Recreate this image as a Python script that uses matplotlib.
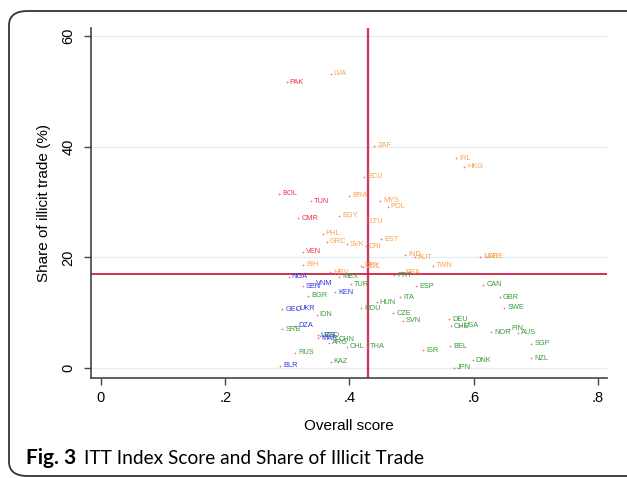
import matplotlib
matplotlib.use("Agg")
import matplotlib.pyplot as plt
from matplotlib import font_manager
from matplotlib.patches import FancyBboxPatch

# country codes, ITT overall score, share of illicit trade (%), colour group
codes = ["PAK", "BOL", "TUN", "CMR", "VEN",
         "LVA", "ZAF", "IRL", "HKG", "ECU", "BRA", "MYS", "POL", "EGY", "LTU",
         "PHL", "GRC", "SVK", "CRI", "EST", "IND", "AUT", "NLD", "ARE", "TWN",
         "BIH", "URY", "COL", "HRV", "FRA",
         "NGA", "SEN", "VNM", "KEN", "GEO", "UKR", "DZA", "UZB", "MAR", "BLR",
         "PRT", "MEX", "TUR", "ESP", "CAN", "BGR", "ITA", "GBR", "HUN", "ROU",
         "SWE", "IDN", "CZE", "SVN", "DEU", "CHE", "USA", "FIN", "NOR", "AUS",
         "SRB", "BGD", "ARG", "CHN", "CHL", "THA", "ISR", "BEL", "SGP", "RUS",
         "NZL", "DNK", "KAZ", "JPN"]
scores = [0.299, 0.287, 0.338, 0.318, 0.325,
          0.370, 0.440, 0.572, 0.585, 0.4235, 0.400, 0.450, 0.4615, 0.384, 0.428,
          0.357, 0.3636, 0.3958, 0.426, 0.451, 0.490, 0.5056, 0.611, 0.620, 0.534,
          0.326, 0.419, 0.422, 0.3694, 0.4847,
          0.302, 0.325, 0.342, 0.377, 0.292, 0.3153, 0.3127, 0.349, 0.350, 0.288,
          0.472, 0.3836, 0.402, 0.507, 0.6155, 0.3333, 0.482, 0.642, 0.444, 0.419,
          0.6496, 0.3475, 0.4705, 0.486, 0.5607, 0.563, 0.578, 0.6567, 0.628, 0.6715,
          0.292, 0.353, 0.3677, 0.377, 0.396, 0.428, 0.5188, 0.5626, 0.6928, 0.3127,
          0.6928, 0.5987, 0.370, 0.5684]
shares = [51.6, 31.5, 30.1, 27.1, 21.0,
          53.2, 40.2, 37.9, 36.4, 34.6, 31.1, 30.2, 29.1, 27.5, 26.5,
          24.3, 22.8, 22.35, 22.0, 23.3, 20.5, 20.0, 20.1, 20.1, 18.5,
          18.7, 18.5, 18.3, 17.3, 17.3,
          16.5, 14.8, 15.2, 13.7, 10.6, 10.7, 7.6, 5.9, 5.4, 0.42,
          16.75, 16.45, 15.1, 14.8, 15.0, 13.1, 12.8, 12.8, 11.9, 10.8,
          10.9, 9.6, 9.9, 8.55, 8.8, 7.5, 7.65, 7.05, 6.45, 6.4,
          7.0, 5.8, 4.6, 5.06, 3.8, 3.85, 3.25, 3.9, 4.4, 2.77,
          1.8, 1.39, 1.14, 0.06]
groups = ["red"] * 5 + ["orange"] * 25 + ["blue"] * 10 + ["green"] * 34

mean_score = 0.43
mean_share = 17.0

group_colors = {"red": "#ee2f45", "orange": "#f8a24c",
                "blue": "#3434f0", "green": "#3a9a3a"}

installed = {f.name for f in font_manager.fontManager.ttflist}
narrow = "Liberation Sans Narrow" if "Liberation Sans Narrow" in installed else "Lato"
plt.rcParams["font.family"] = ["Liberation Sans", "DejaVu Sans"]

fig = plt.figure(figsize=(6.27, 4.78), dpi=100)
ax = fig.add_axes([91 / 627, 1 - 378 / 478, 516 / 627, 350 / 478])

for y in [0, 20, 40, 60]:
    ax.axhline(y, color="#e6eef3", lw=1.0, zorder=0)

ax.scatter(scores, shares, s=1.5, color="#f06a78", zorder=3, linewidths=0)
for c, x, y, g in zip(codes, scores, shares, groups):
    ax.annotate(c, (x, y), xytext=(2.2, 0), textcoords="offset points",
                fontsize=5.3, color=group_colors[g], va="center", ha="left",
                zorder=4)

ax.axvline(mean_score, color="#cf3a5e", lw=1.7, zorder=2)
ax.axhline(mean_share, color="#d42040", lw=1.3, zorder=2)

ax.set_xlim(-0.0161, 0.8148)
ax.set_ylim(-1.81, 61.45)
ax.set_xticks([0, 0.2, 0.4, 0.6, 0.8])
ax.set_xticklabels(["0", ".2", ".4", ".6", ".8"])
ax.set_yticks([0, 20, 40, 60])
ax.set_yticklabels(["0", "20", "40", "60"], rotation=90, va="center")
ax.tick_params(axis="both", labelsize=10.5, color="#444444", length=5,
               width=1.0, pad=4)
ax.tick_params(axis="y", pad=6)
for side in ["top", "right"]:
    ax.spines[side].set_visible(False)
for side in ["left", "bottom"]:
    ax.spines[side].set_color("#444444")
    ax.spines[side].set_linewidth(1.2)

ax.set_xlabel("Overall score", fontsize=11)
ax.set_ylabel("Share of illicit trade (%)", fontsize=11)
ax.xaxis.set_label_coords(0.5, -0.118)
ax.yaxis.set_label_coords(-0.078, 0.5)

fig.text(26 / 627, 1 - 458 / 478, "Fig. 3", fontsize=15, fontweight="bold",
         family=narrow, va="center", ha="left")
fig.text(84 / 627, 1 - 458 / 478, "ITT Index Score and Share of Illicit Trade",
         fontsize=13.8, family=narrow, va="center", ha="left")

border = FancyBboxPatch((9 / 627, 1 - 476 / 478), 640 / 627, 465 / 478,
                        boxstyle="round,pad=0,rounding_size=0.03",
                        transform=fig.transFigure, fill=False,
                        edgecolor="#333333", lw=1.3, clip_on=False)
fig.patches.append(border)

fig.savefig("out.png", dpi=100)
